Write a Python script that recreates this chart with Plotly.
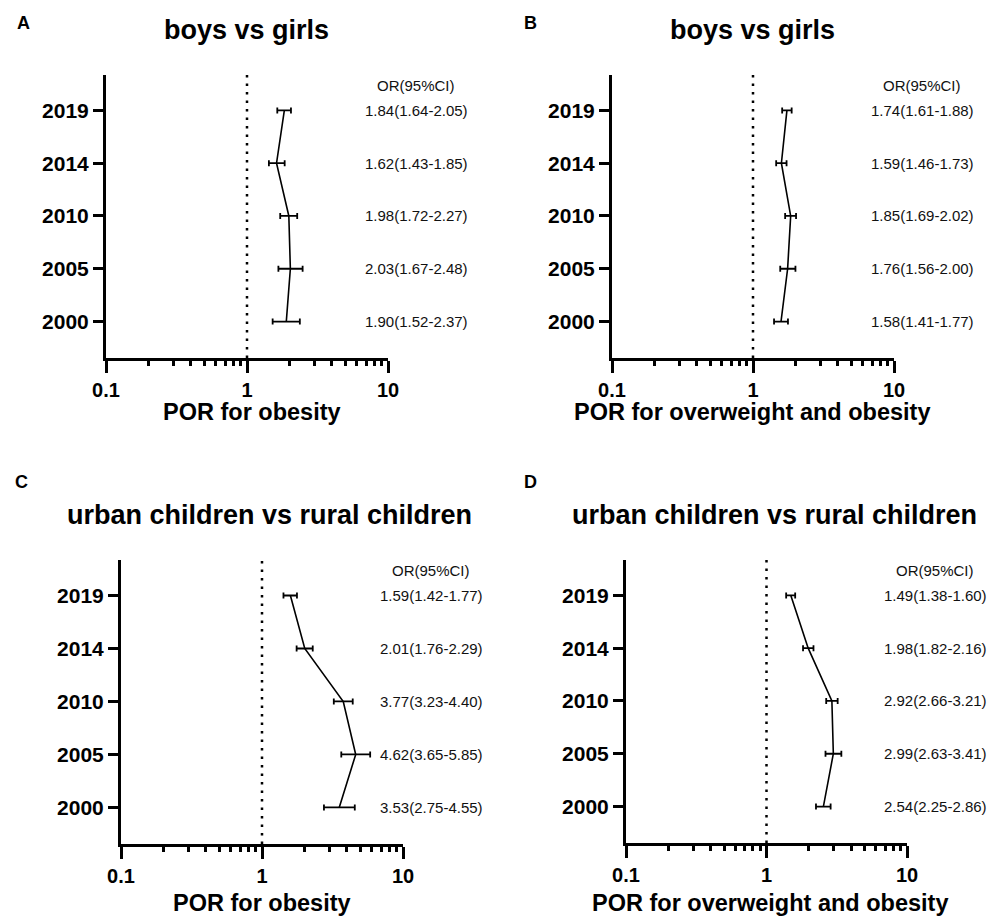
import plotly.graph_objects as go

W, H = 989, 918

years = ["2000", "2005", "2010", "2014", "2019"]

# Panel A: boys vs girls, obesity
a_or = [1.90, 2.03, 1.98, 1.62, 1.84]
a_lo = [1.52, 1.67, 1.72, 1.43, 1.64]
a_hi = [2.37, 2.48, 2.27, 1.85, 2.05]
# Panel B: boys vs girls, overweight and obesity
b_or = [1.58, 1.76, 1.85, 1.59, 1.74]
b_lo = [1.41, 1.56, 1.69, 1.46, 1.61]
b_hi = [1.77, 2.00, 2.02, 1.73, 1.88]
# Panel C: urban vs rural, obesity
c_or = [3.53, 4.62, 3.77, 2.01, 1.59]
c_lo = [2.75, 3.65, 3.23, 1.76, 1.42]
c_hi = [4.55, 5.85, 4.40, 2.29, 1.77]
# Panel D: urban vs rural, overweight and obesity
d_or = [2.54, 2.99, 2.92, 1.98, 1.49]
d_lo = [2.25, 2.63, 2.66, 1.82, 1.38]
d_hi = [2.86, 3.41, 3.21, 2.16, 1.60]

panel_letters = ["A", "B", "C", "D"]
titles = ["boys vs girls", "boys vs girls",
          "urban children vs rural children", "urban children vs rural children"]
xtitles = ["POR for obesity", "POR for overweight and obesity",
           "POR for obesity", "POR for overweight and obesity"]
x_ticks = [0.1, 1, 10]
x_ticktext = ["0.1", "1", "10"]
x_minor = [0.2, 0.3, 0.4, 0.5, 0.6, 0.7, 0.8, 0.9, 2, 3, 4, 5, 6, 7, 8, 9]

panels = [(a_or, a_lo, a_hi), (b_or, b_lo, b_hi), (c_or, c_lo, c_hi), (d_or, d_lo, d_hi)]

# layout geometry (pixels)
xdom_px = [(106, 388), (612, 894), (121, 403), (626, 907)]
ydom_px = [(75, 358), (75, 358), (560, 844), (560, 843)]
title_pos = [(246, 30), (752, 30), (269, 515), (774, 515)]
letter_pos = [(23, 23), (530, 23), (21, 482), (530, 482)]
xtitle_pos = [(252, 412), (752, 412), (262, 903), (770, 903)]

FONT = "Liberation Sans, Arial, sans-serif"

fig = go.Figure()
ypos = list(range(len(years)))
annotations = []

for i, (orv, lo, hi) in enumerate(panels):
    k = "" if i == 0 else str(i + 1)
    xa, ya = "x" + k, "y" + k
    # reference dotted line at OR = 1
    fig.add_trace(go.Scatter(
        x=[1, 1], y=[-0.69, 4.67], mode="lines", xaxis=xa, yaxis=ya,
        line=dict(color="black", width=2.5, dash="2.5px,6px"),
        hoverinfo="skip", showlegend=False))
    fig.add_trace(go.Scatter(
        x=orv, y=ypos, mode="lines", xaxis=xa, yaxis=ya,
        line=dict(color="black", width=1.6),
        error_x=dict(type="data", symmetric=False,
                     array=[h - o for h, o in zip(hi, orv)],
                     arrayminus=[o - l for o, l in zip(orv, lo)],
                     color="black", thickness=1.8, width=3),
        showlegend=False))

    x0, x1 = xdom_px[i]
    y0, y1 = ydom_px[i]
    fig.layout["xaxis" + k] = dict(
        domain=[x0 / W, x1 / W], anchor=ya, type="log", range=[-1, 1],
        tickvals=x_ticks, ticktext=x_ticktext, automargin=False,
        ticks="outside", ticklen=12, tickwidth=3, tickcolor="black",
        minor=dict(tickvals=x_minor, ticks="outside", ticklen=5, tickwidth=2.5,
                   tickcolor="black", showgrid=False),
        showline=True, linewidth=3, linecolor="black",
        showgrid=False, zeroline=False,
        tickfont=dict(family=FONT, size=20, color="black", weight="bold"))
    fig.layout["yaxis" + k] = dict(
        domain=[1 - y1 / H, 1 - y0 / H], anchor=xa, range=[-0.69, 4.67],
        tickvals=ypos, ticktext=years, automargin=False,
        ticks="outside", ticklen=10, tickwidth=3, tickcolor="black",
        showline=True, linewidth=3, linecolor="black",
        showgrid=False, zeroline=False,
        tickfont=dict(family=FONT, size=21, color="black", weight="bold"))

    # OR(95%CI) column
    annotations.append(dict(
        text="OR(95%CI)", xref=xa + " domain", yref=ya, x=1.10, y=4.48,
        showarrow=False, xanchor="center", yanchor="middle",
        font=dict(family=FONT, size=15, color="#111111")))
    for yy, o, l, h in zip(ypos, orv, lo, hi):
        annotations.append(dict(
            text=f"{o:.2f}({l:.2f}-{h:.2f})", xref=xa + " domain", yref=ya,
            x=1.10, y=yy, showarrow=False, xanchor="center", yanchor="middle",
            font=dict(family=FONT, size=15, color="#111111")))

    tx, ty = title_pos[i]
    annotations.append(dict(
        text=titles[i], xref="paper", yref="paper", x=tx / W, y=1 - ty / H,
        showarrow=False, xanchor="center", yanchor="middle",
        font=dict(family=FONT, size=27, color="black", weight="bold")))
    lx, ly = letter_pos[i]
    annotations.append(dict(
        text=panel_letters[i], xref="paper", yref="paper", x=lx / W, y=1 - ly / H,
        showarrow=False, xanchor="center", yanchor="middle",
        font=dict(family=FONT, size=18, color="black", weight="bold")))
    ax_, ay_ = xtitle_pos[i]
    annotations.append(dict(
        text=xtitles[i], xref="paper", yref="paper", x=ax_ / W, y=1 - ay_ / H,
        showarrow=False, xanchor="center", yanchor="middle",
        font=dict(family=FONT, size=23.5, color="black", weight="bold")))

fig.update_layout(
    width=W, height=H, margin=dict(l=0, r=0, t=0, b=0, pad=0, autoexpand=False),
    paper_bgcolor="white", plot_bgcolor="white",
    annotations=annotations, showlegend=False,
    font=dict(family=FONT, color="black"))

fig.write_html(
    "out.html",
    config={"responsive": False, "displayModeBar": False},
    post_script="document.body.style.margin='0';document.body.style.overflow='hidden';",
)
